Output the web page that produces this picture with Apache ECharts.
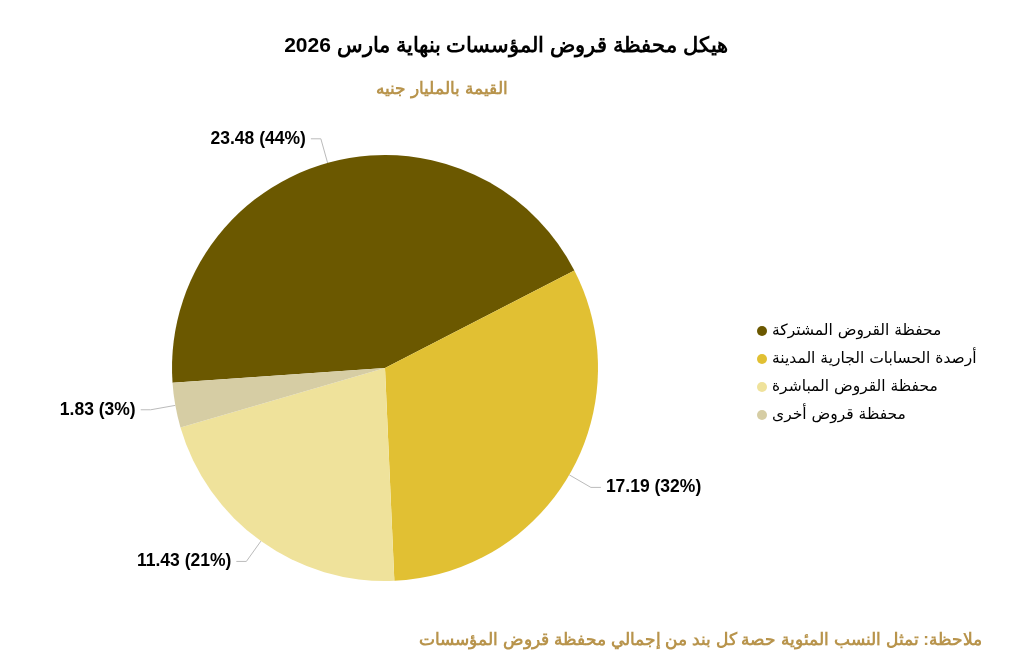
<!DOCTYPE html>
<html>
<head>
<meta charset="utf-8">
<script src="https://cdn.jsdelivr.net/npm/echarts@6/dist/echarts.min.js"></script>
<style>
    html, body { margin: 0; padding: 0; background: #fff; }
    #chart { width: 1018px; height: 667px; }
</style>
</head>
<body>
<div id="chart"></div>
<script>
// بيانات المحفظة (مليار جنيه)
var categories = ['محفظة القروض المشتركة', 'أرصدة الحسابات الجارية المدينة', 'محفظة القروض المباشرة', 'محفظة قروض أخرى'];
var values = [23.48, 17.19, 11.43, 1.83];
var colors = ['#6B5800', '#E1C033', '#EFE29B', '#D6CDA4'];

var total = values.reduce(function (a, b) { return a + b; }, 0);

var pieData = categories.map(function (name, i) {
    return { name: name, value: values[i], itemStyle: { color: colors[i] } };
});

var chart = echarts.init(document.getElementById('chart'));

var option = {
    backgroundColor: '#fff',
    animation: false,
    title: [{
        text: 'هيكل محفظة قروض المؤسسات بنهاية مارس 2026',
        left: 501,
        top: 31,
        textAlign: 'center',
        textStyle: { fontFamily: 'Liberation Sans', fontSize: 21, fontWeight: 'bold', color: '#000' }
    }, {
        text: 'القيمة بالمليار جنيه',
        left: 437,
        top: 76,
        textAlign: 'center',
        textStyle: { fontFamily: 'Liberation Sans', fontSize: 17, fontWeight: 'bold', color: '#B8944C' }
    }, {
        text: 'ملاحظة: تمثل النسب المئوية حصة كل بند من إجمالي محفظة قروض المؤسسات',
        right: 31,
        top: 627,
        textStyle: { fontFamily: 'Liberation Sans', fontSize: 17, fontWeight: 'bold', color: '#B8944C' }
    }],
    legend: {
        orient: 'vertical',
        left: 752,
        top: 318,
        itemWidth: 10,
        itemHeight: 10,
        itemGap: 12,
        icon: 'circle',
        data: categories,
        textStyle: { fontFamily: 'DejaVu Sans', fontSize: 15.5, color: '#000' }
    },
    series: [{
        type: 'pie',
        center: [385, 368],
        radius: 213,
        startAngle: 184,
        clockwise: true,
        data: pieData,
        label: {
            show: true,
            position: 'outside',
            fontFamily: 'Liberation Sans',
            fontSize: 17.5,
            fontWeight: 'bold',
            color: '#000',
            formatter: function (p) {
                return p.value.toFixed(2) + ' (' + Math.round(p.value / total * 100) + '%)';
            }
        },
        labelLine: {
            show: true,
            length: 25,
            length2: 10,
            lineStyle: { color: '#BBBBBB', width: 1 }
        },
        emphasis: { disabled: true }
    }]
};

chart.setOption(option);
</script>
</body>
</html>
